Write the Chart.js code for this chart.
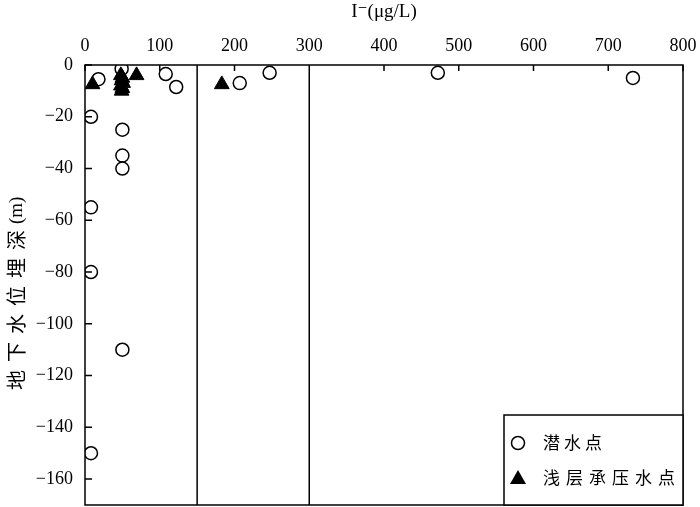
<!DOCTYPE html>
<html lang="zh">
<head>
  <meta charset="UTF-8" />
  <title>I- 与地下水位埋深</title>
  <script src="https://cdn.jsdelivr.net/npm/chart.js"></script>
  <style>
    * { margin: 0; padding: 0; box-sizing: border-box; }
    body { background: white; }
    #wrap { width: 700px; height: 507px; }
  </style>
</head>
<body>
  <div id="wrap"><canvas id="chart" width="700" height="507"></canvas></div>

  <script>
    // 潜水点 (phreatic water points)
    const phreaticX = [472, 733, 247, 207, 108, 122, 18, 49, 8, 8, 8, 8, 50, 50, 50, 50];
    const phreaticY = [-3, -5, -3, -7, -3.5, -8.5, -5.5, -1.5, -20, -55, -80, -150, -25, -35, -40, -110];

    // 浅层承压水点 (shallow confined water points)
    const confinedX = [183, 69, 10, 48, 50, 49, 51, 48, 50, 49];
    const confinedY = [-7.5, -4, -7.5, -4, -5, -6, -7, -8, -9, -10];

    const xTicks = [0, 100, 200, 300, 400, 500, 600, 700, 800];
    const yTicks = [0, -20, -40, -60, -80, -100, -120, -140, -160];
    const dividers = [150, 300];

    const serif = "'Liberation Serif', 'DejaVu Serif', serif";
    const cjk = "'Noto Sans CJK SC', sans-serif";

    const toPoints = (xs, ys) => xs.map((x, i) => ({ x: x, y: ys[i] }));

    const noPad = s => { s.paddingLeft = 0; s.paddingRight = 0; s.paddingTop = 0; s.paddingBottom = 0; };

    // box, inward ticks, divider lines, y title, legend
    const decor = {
      id: 'decor',
      afterDraw(chart) {
        const ctx = chart.ctx;
        const a = chart.chartArea;
        const xs = chart.scales.x, ys = chart.scales.y;
        ctx.save();
        ctx.strokeStyle = '#000';
        ctx.lineWidth = 1.5;
        ctx.strokeRect(a.left, a.top, a.right - a.left, a.bottom - a.top);

        ctx.beginPath();
        dividers.forEach(v => {
          const px = xs.getPixelForValue(v);
          ctx.moveTo(px, a.top);
          ctx.lineTo(px, a.bottom);
        });
        xTicks.forEach(v => {
          const px = xs.getPixelForValue(v);
          ctx.moveTo(px, a.top);
          ctx.lineTo(px, a.top + 6);
        });
        yTicks.forEach(v => {
          const py = ys.getPixelForValue(v);
          ctx.moveTo(a.left, py);
          ctx.lineTo(a.left + 7, py);
        });
        ctx.stroke();

        // y axis title
        ctx.fillStyle = '#000';
        ctx.translate(16, 290);
        ctx.rotate(-Math.PI / 2);
        ctx.textBaseline = 'middle';
        const chars = ['地', '下', '水', '位', '埋', '深'];
        ctx.font = '20px ' + cjk;
        let cx = -100;
        chars.forEach(c => { ctx.fillText(c, cx, 0); cx += 28; });
        ctx.font = '19px ' + serif;
        ctx.fillText('(m)', cx - 2, 1);
        ctx.setTransform(1, 0, 0, 1, 0, 0);

        // legend
        const lx = 504, ly = 415, lw = a.right - 504, lh = a.bottom - 415;
        ctx.fillStyle = '#fff';
        ctx.fillRect(lx, ly, lw, lh);
        ctx.strokeRect(lx, ly, lw, lh);
        ctx.beginPath();
        ctx.arc(518, 443, 6.5, 0, Math.PI * 2);
        ctx.stroke();
        ctx.fillStyle = '#000';
        ctx.beginPath();
        ctx.moveTo(518, 470);
        ctx.lineTo(526, 484);
        ctx.lineTo(510, 484);
        ctx.closePath();
        ctx.fill();
        ctx.font = '17px ' + cjk;
        ctx.textBaseline = 'middle';
        const drawSpaced = (txt, x, y, step) => {
          Array.from(txt).forEach((c, i) => ctx.fillText(c, x + i * step, y));
        };
        drawSpaced('潜水点', 543, 443, 21);
        drawSpaced('浅层承压水点', 543, 478, 23);
        ctx.restore();
      }
    };

    new Chart(document.getElementById('chart'), {
      type: 'scatter',
      data: {
        datasets: [{
          label: '潜水点',
          data: toPoints(phreaticX, phreaticY),
          pointStyle: 'circle',
          pointRadius: 6.5,
          pointBorderWidth: 1.5,
          borderColor: '#000',
          backgroundColor: 'rgba(0,0,0,0)'
        }, {
          label: '浅层承压水点',
          data: toPoints(confinedX, confinedY),
          pointStyle: 'triangle',
          pointRadius: 8.5,
          pointBorderWidth: 1,
          borderColor: '#000',
          backgroundColor: '#000'
        }]
      },
      options: {
        responsive: false,
        animation: false,
        layout: { autoPadding: false, padding: { right: 17, bottom: 2 } },
        plugins: {
          legend: { display: false },
          tooltip: { enabled: false }
        },
        scales: {
          x: {
            type: 'linear',
            position: 'top',
            min: 0,
            max: 800,
            afterBuildTicks: s => { s.ticks = xTicks.map(v => ({ value: v })); },
            afterFit: s => { s.height = 65; noPad(s); },
            grid: { display: false, drawTicks: false },
            border: { display: false },
            ticks: { color: '#000', padding: 8, maxRotation: 0, font: { family: serif, size: 18 } },
            title: {
              display: true,
              text: 'I\u207B(\u03BCg/L)',
              color: '#000',
              font: { family: serif, size: 19 },
              padding: { top: 1, bottom: 4 }
            }
          },
          y: {
            type: 'linear',
            min: -170,
            max: 0,
            afterBuildTicks: s => { s.ticks = yTicks.map(v => ({ value: v })); },
            afterFit: s => { s.width = 85; noPad(s); },
            grid: { display: false, drawTicks: false },
            border: { display: false },
            ticks: {
              color: '#000',
              padding: 12,
              font: { family: serif, size: 18 },
              callback: v => v < 0 ? '\u2212' + Math.abs(v) : String(v)
            }
          }
        }
      },
      plugins: [decor]
    });
  </script>
</body>
</html>
